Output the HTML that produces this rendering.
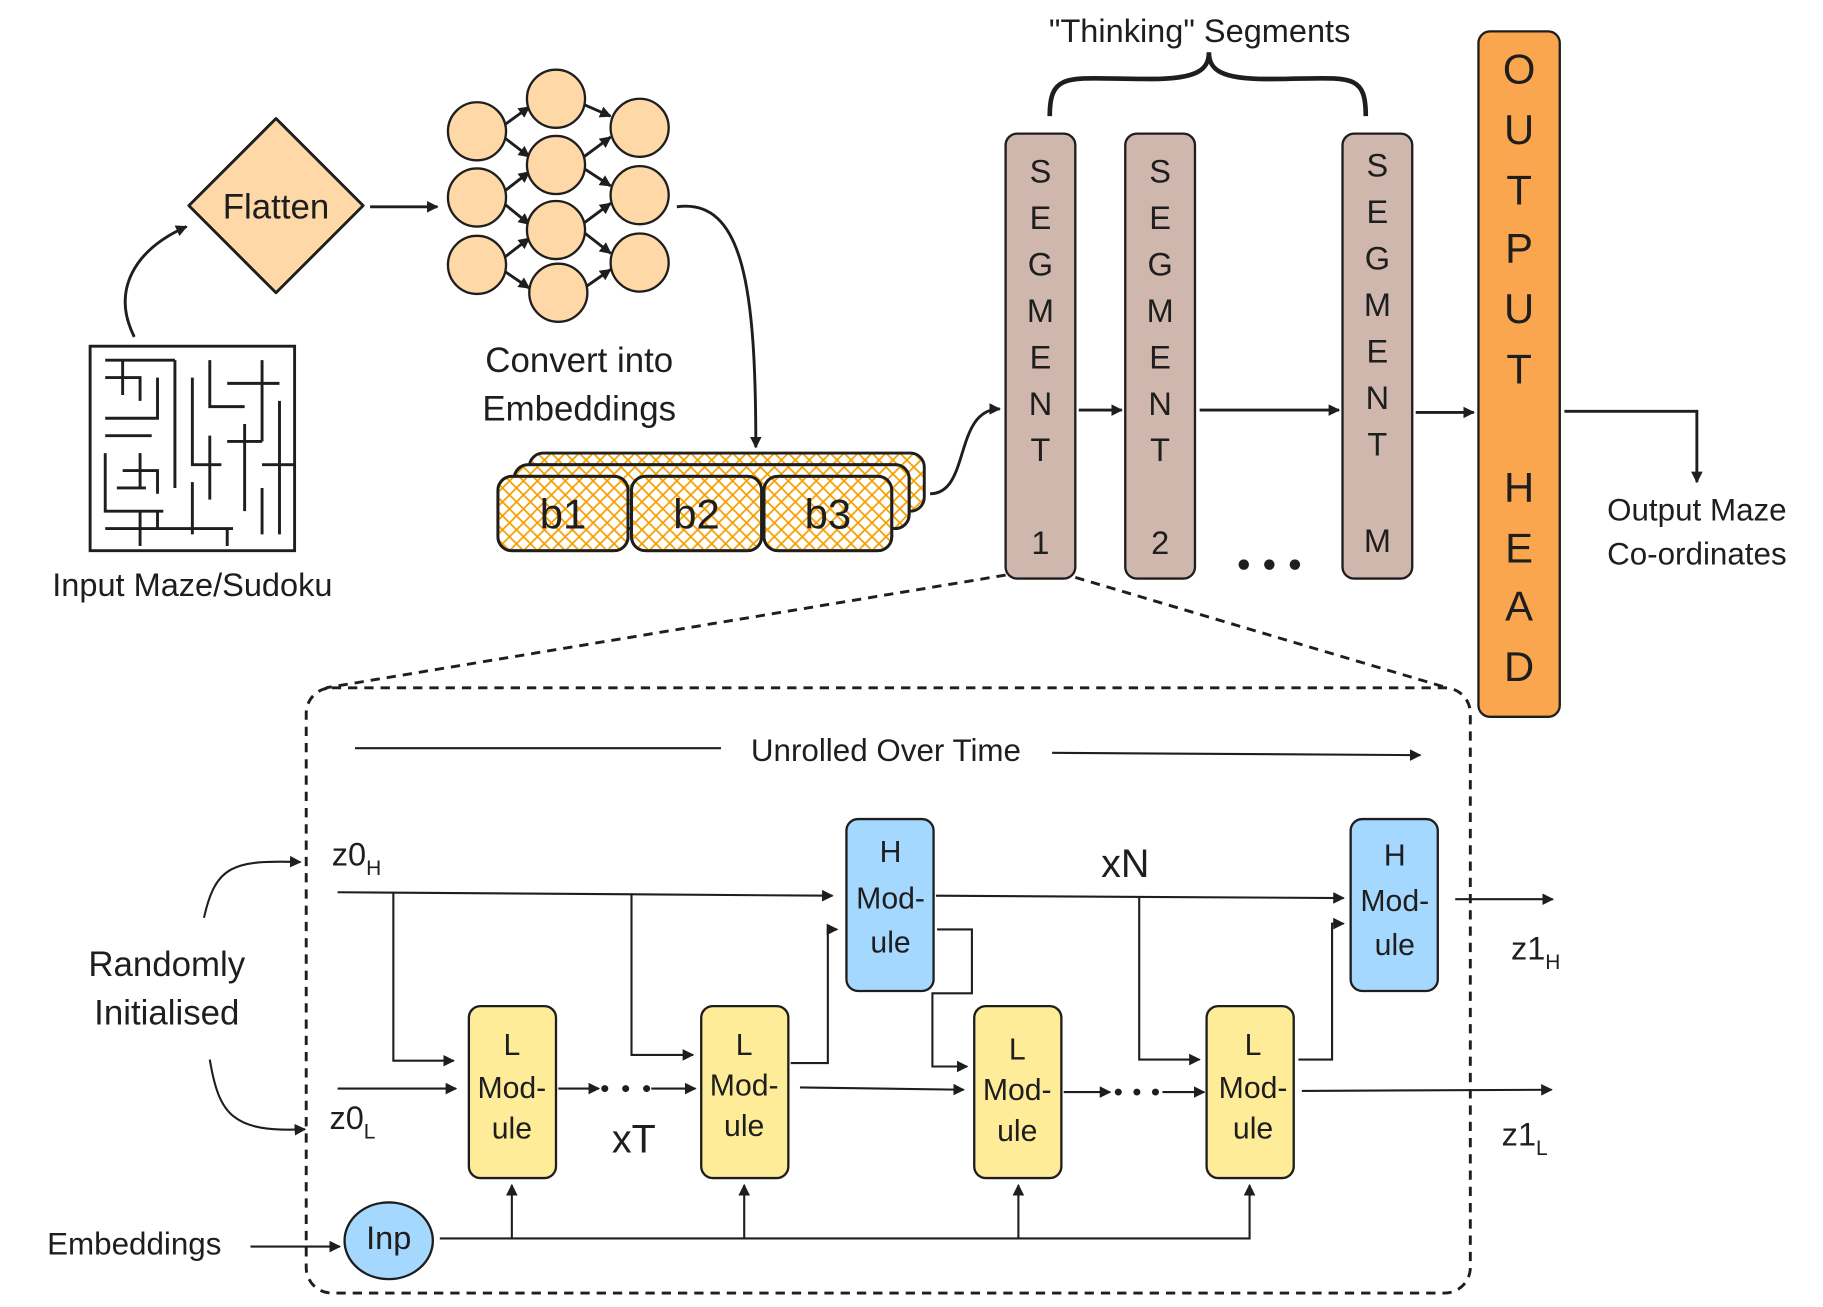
<!DOCTYPE html>
<html><head><meta charset="utf-8"><style>
html,body{margin:0;padding:0;background:#fff;}
svg{display:block;}
text{font-family:"Liberation Sans","DejaVu Sans",sans-serif;fill:#1e1e1e;}
</style></head><body>
<svg width="1823" height="1307" viewBox="0 0 1568 1125" xmlns="http://www.w3.org/2000/svg">
<defs>
<marker id="a" markerWidth="10" markerHeight="10" refX="9" refY="5" orient="auto" markerUnits="userSpaceOnUse"><path d="M0,0 L10,5 L0,10 z" fill="#1e1e1e"/></marker>
<pattern id="h" width="12" height="12" patternUnits="userSpaceOnUse"><path d="M0,0 L12,12 M12,0 L0,12" stroke="#f59f00" stroke-width="1.5"/></pattern>
</defs>
<g stroke="#1e1e1e" stroke-width="2.5" fill="none">
<rect x="77" y="298" width="176" height="176" fill="#fff"/>
<path d="M90,310 H150 M90,325 H120 V345 M135,325 V360 H90 M90,375 H130 M150,310 V420 M165,325 V400 H190 M90,390 V440 H140 M105,405 H135 V425 M90,455 H200 M180,310 V350 H210 M195,330 H240 M225,310 V380 M210,365 V440 M240,345 V460 M180,375 V430 M120,440 V470 M165,415 V460 M195,455 V470 M225,400 H253 M225,420 V460 M105,310 V340 M195,380 H225 M120,390 V420 M135,440 V455 M100,420 H125"/>
<path d="M115,290 C95,250 115,215 160,195" marker-end="url(#a)"/>
<path d="M237,102 L312,177 L237,252 L162,177 Z" fill="#ffd8a8" stroke-linejoin="round"/>
<path d="M318,178 H376" marker-end="url(#a)"/>
</g>
<g stroke="#1e1e1e" stroke-width="2.5" fill="none" marker-end="url(#a)">
<path d="M433,108 L455,92"/><path d="M433,118 L455,135"/><path d="M433,165 L455,148"/><path d="M433,175 L455,193"/><path d="M433,222 L455,205"/><path d="M433,233 L455,248"/>
<path d="M502,90 L525,100"/><path d="M502,145 L525,160"/><path d="M502,135 L525,118"/><path d="M502,200 L525,218"/><path d="M502,192 L525,175"/><path d="M502,248 L525,232"/>
</g>
<g fill="#ffd8a8" stroke="#1e1e1e" stroke-width="2">
<circle cx="410" cy="113" r="25"/><circle cx="410" cy="170" r="25"/><circle cx="410" cy="228" r="25"/>
<circle cx="478" cy="85" r="25"/><circle cx="478" cy="142" r="25"/><circle cx="478" cy="198" r="25"/><circle cx="480" cy="252" r="25"/>
<circle cx="550" cy="110" r="25"/><circle cx="550" cy="168" r="25"/><circle cx="550" cy="226" r="25"/>
</g>
<text x="237" y="188" font-size="30" text-anchor="middle">Flatten</text>
<text x="165" y="513" font-size="28" text-anchor="middle">Input Maze/Sudoku</text>
<text x="498" y="320" font-size="30" text-anchor="middle">Convert into</text>
<text x="498" y="362" font-size="30" text-anchor="middle">Embeddings</text>
<g stroke="#1e1e1e" stroke-width="2.5" fill="none">
<path d="M582,178 C640,170 650,250 650,385" marker-end="url(#a)"/>
<rect x="455" y="390" width="340" height="50" rx="12" fill="url(#h)"/>
<rect x="442" y="400" width="340" height="55" rx="12" fill="#fff"/>
<rect x="442" y="400" width="340" height="55" rx="12" fill="url(#h)"/>
<rect x="428" y="410" width="112" height="64" rx="12" fill="#fff"/><rect x="428" y="410" width="112" height="64" rx="12" fill="url(#h)"/>
<rect x="543" y="410" width="112" height="64" rx="12" fill="#fff"/><rect x="543" y="410" width="112" height="64" rx="12" fill="url(#h)"/>
<rect x="657" y="410" width="110" height="64" rx="12" fill="#fff"/><rect x="657" y="410" width="110" height="64" rx="12" fill="url(#h)"/>
<path d="M800,425 C835,425 820,352 860,352" marker-end="url(#a)"/>
</g>
<text x="484" y="455" font-size="36" text-anchor="middle">b1</text>
<text x="599" y="455" font-size="36" text-anchor="middle">b2</text>
<text x="712" y="455" font-size="36" text-anchor="middle">b3</text>
<g stroke="#1e1e1e" stroke-width="2">
<rect x="865" y="115" width="60" height="383" rx="10" fill="#d0b7ad"/>
<rect x="968" y="115" width="60" height="383" rx="10" fill="#d0b7ad"/>
<rect x="1155" y="115" width="60" height="383" rx="10" fill="#d0b7ad"/>
<rect x="1272" y="27" width="70" height="590" rx="10" fill="#f9a64f"/>
</g>
<g font-size="28" text-anchor="middle">
<text x="895" y="157">S</text><text x="895" y="197">E</text><text x="895" y="237">G</text><text x="895" y="277">M</text><text x="895" y="317">E</text><text x="895" y="357">N</text><text x="895" y="397">T</text><text x="895" y="477">1</text>
<text x="998" y="157">S</text><text x="998" y="197">E</text><text x="998" y="237">G</text><text x="998" y="277">M</text><text x="998" y="317">E</text><text x="998" y="357">N</text><text x="998" y="397">T</text><text x="998" y="477">2</text>
<text x="1185" y="152">S</text><text x="1185" y="192">E</text><text x="1185" y="232">G</text><text x="1185" y="272">M</text><text x="1185" y="312">E</text><text x="1185" y="352">N</text><text x="1185" y="392">T</text><text x="1185" y="475">M</text>
</g>
<g font-size="36" text-anchor="middle">
<text x="1307" y="72">O</text><text x="1307" y="124">U</text><text x="1307" y="176">T</text><text x="1307" y="226">P</text><text x="1307" y="278">U</text><text x="1307" y="330">T</text>
<text x="1307" y="432">H</text><text x="1307" y="484">E</text><text x="1307" y="534">A</text><text x="1307" y="586">D</text>
</g>
<g stroke="#1e1e1e" stroke-width="2.5" fill="none">
<path d="M928,353 H965" marker-end="url(#a)"/>
<path d="M1032,353 H1152" marker-end="url(#a)"/>
<path d="M1218,355 H1268" marker-end="url(#a)"/>
<path d="M1346,354 H1460 V415" marker-end="url(#a)"/>
<path d="M903,100 C903,60 920,68 990,68 C1030,68 1040,60 1040,45 C1040,60 1050,68 1090,68 C1160,68 1175,60 1175,100" stroke-width="4"/>
</g>
<circle cx="1070" cy="486" r="4.5" fill="#1e1e1e"/><circle cx="1092" cy="486" r="4.5" fill="#1e1e1e"/><circle cx="1114" cy="486" r="4.5" fill="#1e1e1e"/>
<text x="1032" y="36" font-size="28" text-anchor="middle">"Thinking" Segments</text>
<text x="1460" y="448" font-size="27" text-anchor="middle">Output Maze</text>
<text x="1460" y="486" font-size="27" text-anchor="middle">Co-ordinates</text>
<g stroke="#1e1e1e" stroke-width="2.5" fill="none" stroke-dasharray="8,6">
<path d="M865,495 L280,592"/><path d="M925,497 L1245,592"/>
<rect x="263" y="592" width="1002" height="521" rx="22"/>
</g>
<g stroke="#1e1e1e" stroke-width="1.8" fill="none">
<path d="M305,644 H620"/>
<path d="M905,648 L1222,650" marker-end="url(#a)"/>
<path d="M290,768 L716,771" marker-end="url(#a)"/>
<path d="M338,768 V913 H390" marker-end="url(#a)"/>
<path d="M543,770 V908 H596" marker-end="url(#a)"/>
<path d="M805,771 L1156,773" marker-end="url(#a)"/>
<path d="M980,773 V912 H1032" marker-end="url(#a)"/>
<path d="M1252,774 H1336" marker-end="url(#a)"/>
<path d="M290,937 H392" marker-end="url(#a)"/>
<path d="M480,937 H515" marker-end="url(#a)"/>
<path d="M560,937 H598" marker-end="url(#a)"/>
<path d="M688,936 L829,938" marker-end="url(#a)"/>
<path d="M915,940 H955" marker-end="url(#a)"/>
<path d="M1000,940 H1036" marker-end="url(#a)"/>
<path d="M1120,939 L1335,938" marker-end="url(#a)"/>
<path d="M680,915 H712 V800 H720" marker-end="url(#a)"/>
<path d="M806,800 H836 V855 H802 V918 H832" marker-end="url(#a)"/>
<path d="M1117,912 H1146 V795 H1156" marker-end="url(#a)"/>
<path d="M378,1066 L1075,1066 V1020" marker-end="url(#a)"/>
<path d="M440,1066 V1020" marker-end="url(#a)"/>
<path d="M640,1066 V1020" marker-end="url(#a)"/>
<path d="M876,1066 V1020" marker-end="url(#a)"/>
<path d="M215,1073 H292" marker-end="url(#a)"/>
<path d="M175,790 C185,745 200,740 258,742" marker-end="url(#a)"/>
<path d="M180,912 C188,960 200,975 262,972" marker-end="url(#a)"/>
</g>
<circle cx="520" cy="937" r="3" fill="#1e1e1e"/><circle cx="538" cy="937" r="3" fill="#1e1e1e"/><circle cx="556" cy="937" r="3" fill="#1e1e1e"/>
<circle cx="962" cy="940" r="3" fill="#1e1e1e"/><circle cx="978" cy="940" r="3" fill="#1e1e1e"/><circle cx="994" cy="940" r="3" fill="#1e1e1e"/>
<text x="762" y="655" font-size="27" text-anchor="middle">Unrolled Over Time</text>
<g stroke="#1e1e1e" stroke-width="2">
<rect x="728" y="705" width="75" height="148" rx="10" fill="#a5d8ff"/>
<rect x="1162" y="705" width="75" height="148" rx="10" fill="#a5d8ff"/>
<rect x="403" y="866" width="75" height="148" rx="10" fill="#ffec99"/>
<rect x="603" y="866" width="75" height="148" rx="10" fill="#ffec99"/>
<rect x="838" y="866" width="75" height="148" rx="10" fill="#ffec99"/>
<rect x="1038" y="866" width="75" height="148" rx="10" fill="#ffec99"/>
<ellipse cx="334" cy="1068" rx="38" ry="33" fill="#a5d8ff"/>
</g>
<g font-size="26" text-anchor="middle">
<text x="766" y="742">H</text><text x="766" y="782">Mod-</text><text x="766" y="820">ule</text>
<text x="1200" y="745">H</text><text x="1200" y="784">Mod-</text><text x="1200" y="822">ule</text>
<text x="440" y="908">L</text><text x="440" y="945">Mod-</text><text x="440" y="980">ule</text>
<text x="640" y="908">L</text><text x="640" y="943">Mod-</text><text x="640" y="978">ule</text>
<text x="875" y="912">L</text><text x="875" y="947">Mod-</text><text x="875" y="982">ule</text>
<text x="1078" y="908">L</text><text x="1078" y="945">Mod-</text><text x="1078" y="980">ule</text>
<text x="334" y="1075" font-size="28">Inp</text>
</g>
<text x="285" y="745" font-size="28">z0<tspan font-size="18" dy="8">H</tspan></text>
<text x="283" y="972" font-size="28">z0<tspan font-size="18" dy="8">L</tspan></text>
<text x="1300" y="826" font-size="28">z1<tspan font-size="18" dy="8">H</tspan></text>
<text x="1292" y="986" font-size="28">z1<tspan font-size="18" dy="8">L</tspan></text>
<text x="545" y="992" font-size="34" text-anchor="middle">xT</text>
<text x="968" y="755" font-size="34" text-anchor="middle">xN</text>
<text x="143" y="840" font-size="30" text-anchor="middle">Randomly</text>
<text x="143" y="882" font-size="30" text-anchor="middle">Initialised</text>
<text x="115" y="1080" font-size="27" text-anchor="middle">Embeddings</text>
</svg>
</body></html>
